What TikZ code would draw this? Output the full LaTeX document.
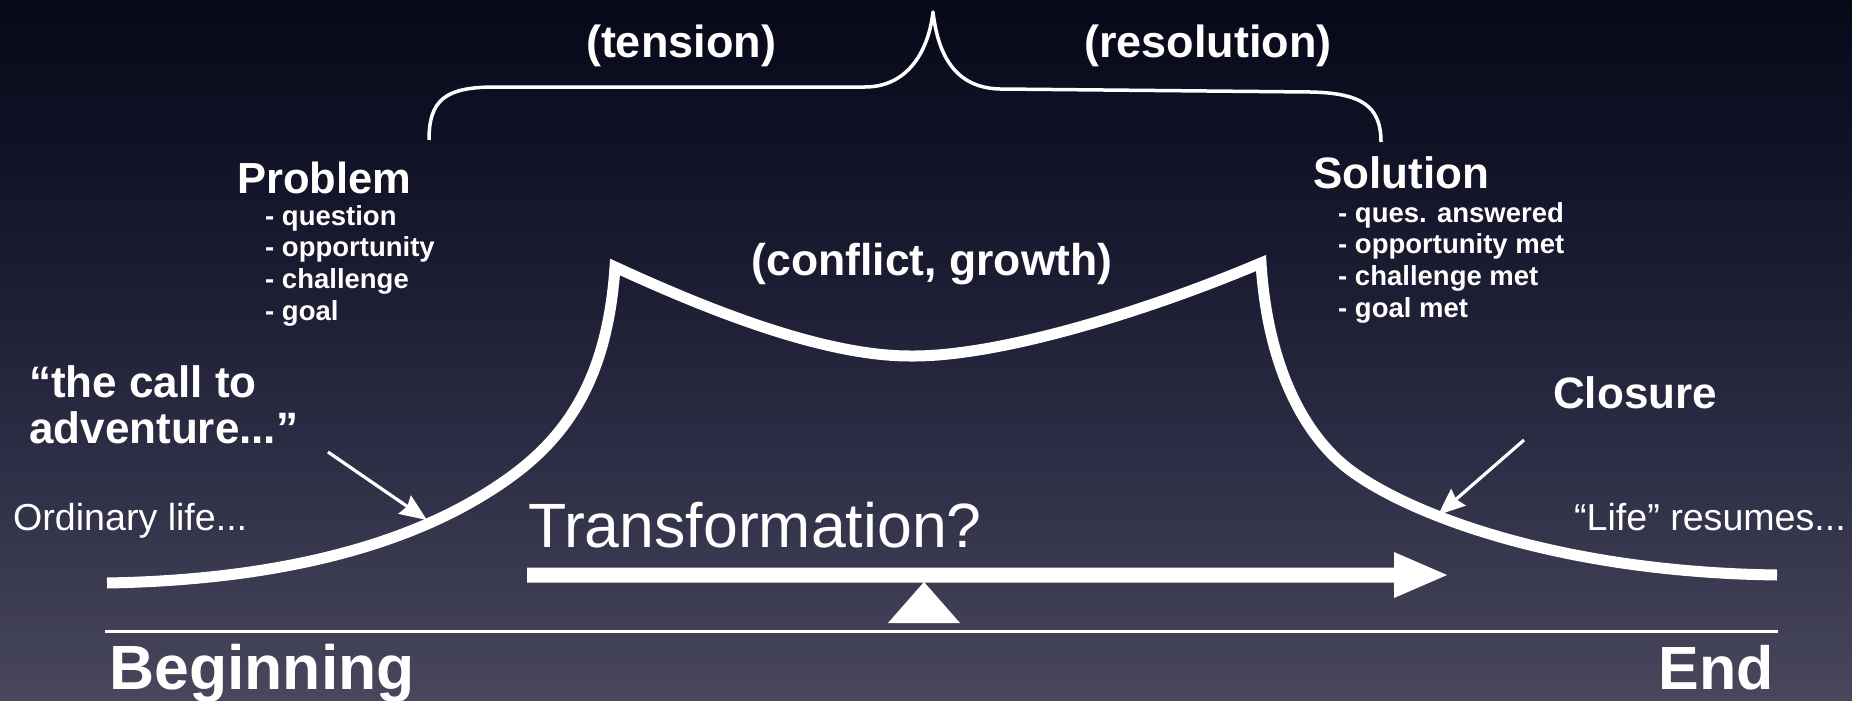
\documentclass[tikz,border=0pt]{standalone}
\usepackage{fontspec}
\setmainfont{Liberation Sans}
\usetikzlibrary{arrows.meta}
\definecolor{bgtop}{RGB}{7,8,24}
\definecolor{bgupper}{RGB}{25,25,48}
\definecolor{bglower}{RGB}{46,46,70}
\definecolor{bgbot}{RGB}{72,71,92}
\pgfdeclareverticalshading{bgshade}{100bp}{color(0bp)=(bgbot); color(25bp)=(bgbot); color(41.5bp)=(bglower); color(57bp)=(bgupper); color(75bp)=(bgtop); color(100bp)=(bgtop)}
\newcommand{\fs}[1]{\fontsize{#1}{#1}\selectfont}
\begin{document}
\begin{tikzpicture}[x=1pt,y=-1pt,
  lbl/.style={text=white, inner sep=0pt, anchor=base west},
  boldlbl/.style={lbl, font=\bfseries\fs{44}},
  itemlbl/.style={lbl, font=\bfseries\fs{27.5}},
  plainlbl/.style={lbl, font=\fs{37.6}},
  curve/.style={draw=white, line width=11pt, line join=miter},
  brace/.style={draw=white, line width=3.5pt, line join=round},
  thinarrow/.style={draw=white, line width=3.2pt, -{Stealth[length=27pt,width=22pt,inset=3pt]}},
  shapefill/.style={fill=white}]
\shade[shading=bgshade] (0,0) rectangle (1852,701);
\useasboundingbox (0,0) rectangle (1852,701);

% top brace and its labels
\draw[brace] (429,140) .. controls (429,100) and (445,87) .. (495,87) -- (865,87)
  .. controls (905,87) and (928,55) .. (933,12)
  .. controls (938,55) and (955,88) .. (1000,89) -- (1310,92)
  .. controls (1360,93) and (1381,105) .. (1381,142);
\node[boldlbl, font=\bfseries\fs{45}, anchor=base] (tension) at (681,58) {(tension)};
\node[boldlbl, font=\bfseries\fs{45}, anchor=base] (resolution) at (1208,58) {(resolution)};

% Problem
\node[boldlbl, font=\bfseries\fs{43.5}] (problem) at (237,193) {Problem};
\node[itemlbl] (p1) at (265,225) {- question};
\node[itemlbl] (p2) at (265,256) {- opportunity};
\node[itemlbl] (p3) at (265,288) {- challenge};
\node[itemlbl] (p4) at (265,320) {- goal};

% Solution
\node[boldlbl] (solution) at (1313,188) {Solution};
\node[itemlbl] (s1) at (1338,222) {- ques. answered};
\node[itemlbl] (s2) at (1338,253) {- opportunity met};
\node[itemlbl] (s3) at (1338,285) {- challenge met};
\node[itemlbl] (s4) at (1338,317) {- goal met};

\node[boldlbl, font=\bfseries\fs{44.5}, anchor=base] (conflict) at (932,275) {(conflict, growth)};

% call to adventure
\node[boldlbl] (call1) at (29,397) {“the call to};
\node[boldlbl] (call2) at (29,443) {adventure...”};
\node[boldlbl] (closure) at (1553,408) {Closure};

\node[plainlbl] (ordinary) at (13,530) {Ordinary life...};
\node[plainlbl] (resumes) at (1574,530) {“Life” resumes...};
\node[plainlbl, font=\fs{62.6}] (transf) at (528,547) {Transformation?};

\node[boldlbl, font=\bfseries\fs{62.5}] (beginning) at (109,689) {Beginning};
\node[boldlbl, font=\bfseries\fs{61}, anchor=base east] (end) at (1774,689) {End};

% main story curve
\draw[curve] (107,583) .. controls (280,580) and (400,545) .. (480,497)
  .. controls (550,455) and (606,400) .. (615,267)
  .. controls (700,306) and (820,356) .. (910,356)
  .. controls (1000,357) and (1150,310) .. (1261,263)
  .. controls (1267,360) and (1300,430) .. (1346,467)
  .. controls (1400,510) and (1550,572) .. (1777,575);

% small arrows
\coordinate (callS) at (328,452);
\coordinate (callT) at (427,520);
\draw[thinarrow] (callS) -- (callT);
\coordinate (cloS) at (1524,440);
\coordinate (cloT) at (1438,515);
\draw[thinarrow] (cloS) -- (cloT);

% transformation arrow
\fill[shapefill] (527,567.5) -- (1394,567.5) -- (1394,552) -- (1447,575)
  -- (1394,598) -- (1394,582.5) -- (527,582.5) -- cycle;
% fulcrum
\fill[shapefill] (888,623) -- (924,582) -- (960,623) -- cycle;
% baseline
\coordinate (blL) at (105,631);
\coordinate (blR) at (1778,631);
\draw[white, line width=3pt] (blL) -- (blR);
\end{tikzpicture}
\end{document}
